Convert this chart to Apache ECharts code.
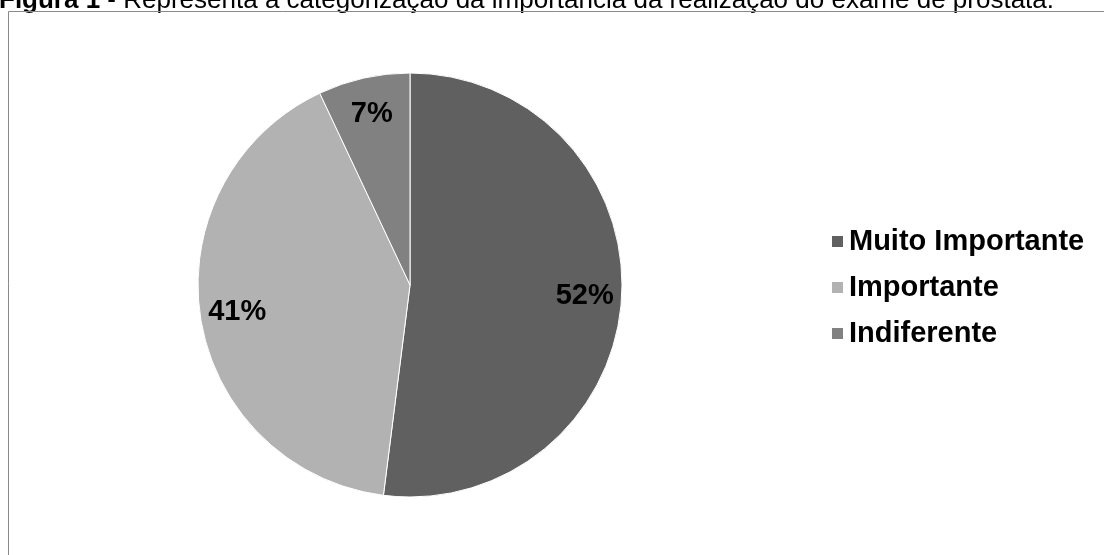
<!DOCTYPE html>
<html><head><meta charset="utf-8">
<script src="https://cdn.jsdelivr.net/npm/echarts@6/dist/echarts.min.js"></script>
<style>html,body{margin:0;padding:0;background:#fff;}#c{width:1104px;height:555px;}</style>
</head><body><div id="c"></div>
<script>
const categories = ['Muito Importante', 'Importante', 'Indiferente'];
const values = [52, 41, 7];
const colors = ['#606060', '#b2b2b2', '#818181'];
const titleBold = 'Figura 1';
const titleRest = ' - Representa a categorização da importância da realização do exame de próstata.';

const data = categories.map((c, i) => ({ name: c, value: values[i], itemStyle: { color: colors[i] } }));
const chart = echarts.init(document.getElementById('c'), null, { renderer: 'canvas' });
chart.setOption({
  animation: false,
  title: {
    text: '{b|' + titleBold + '}{n|' + titleRest + '}',
    left: -1, top: -12, padding: 0,
    textStyle: { rich: {
      b: { fontFamily: 'Liberation Sans, Arial', fontWeight: 'bold', fontSize: 26, color: '#000' },
      n: { fontFamily: 'Liberation Sans, Arial', fontWeight: 'normal', fontSize: 26, color: '#000' }
    } }
  },
  graphic: [{ type: 'rect', z: 100, shape: { x: 8.5, y: 11.5, width: 1200, height: 600 }, style: { fill: 'none', stroke: '#8a8a8a', lineWidth: 1 }, silent: true }],
  legend: {
    orient: 'vertical', left: 825, top: 222,
    itemWidth: 13, itemHeight: 13, itemGap: 17,
    icon: 'rect',
    textStyle: { fontFamily: 'Liberation Sans, Arial', fontWeight: 'bold', fontSize: 29, color: '#000', padding: [0, 0, 0, 0] },
    data: categories
  },
  series: [{
    type: 'pie', center: [410, 285], radius: 212, startAngle: 90, clockwise: true,
    itemStyle: { borderColor: '#ffffff', borderWidth: 1 },
    label: { show: false }, labelLine: { show: false },
    data: data
  }, {
    type: 'pie', center: [410, 285], radius: [132, 212], startAngle: 90, clockwise: true,
    silent: true, legendHoverLink: false,
    itemStyle: { color: 'transparent' },
    label: { show: true, position: 'inside', formatter: '{c}%', fontFamily: 'Liberation Sans, Arial', fontWeight: 'bold', fontSize: 29, color: '#000' },
    labelLine: { show: false },
    data: categories.map((c, i) => ({ name: c + ' ', value: values[i], itemStyle: { color: 'transparent' } }))
  }]
});
</script></body></html>
